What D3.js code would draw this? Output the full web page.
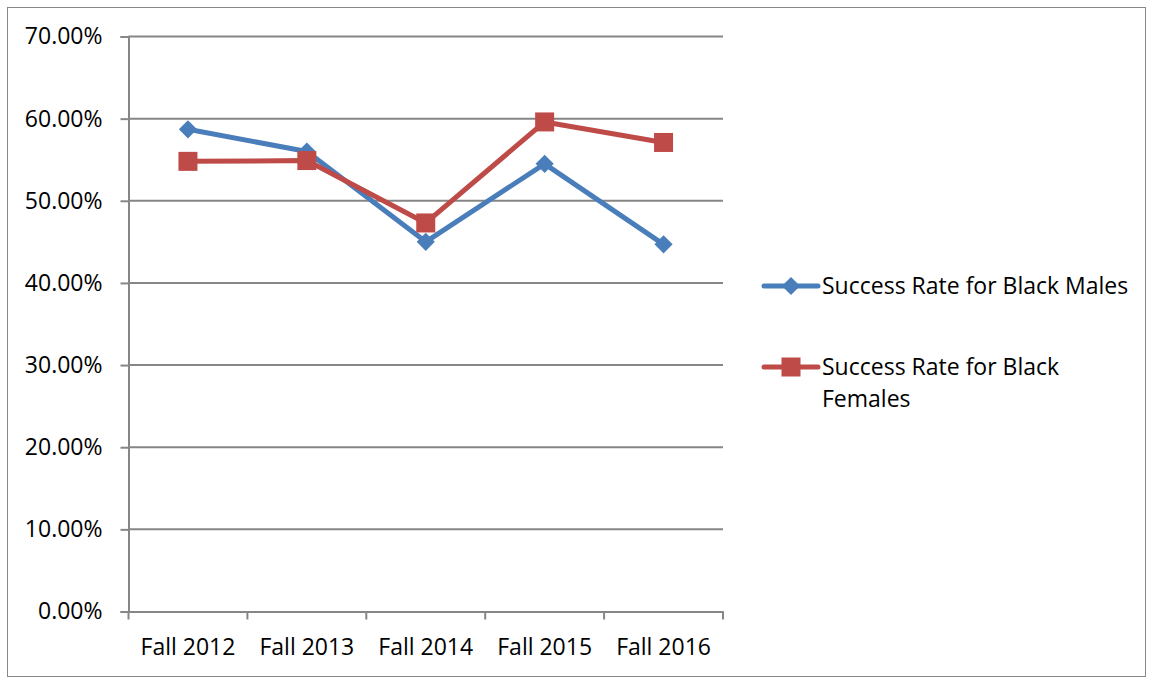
<!DOCTYPE html>
<html><head><meta charset="utf-8">
<script src="https://cdn.jsdelivr.net/npm/d3@7"></script>
<style>body{margin:0;background:#fff}svg{display:block}text{font-family:"Open Sans",sans-serif;fill:#000}</style>
</head><body><svg id="c" width="1153" height="679"></svg>
<script>
const categories = ["Fall 2012","Fall 2013","Fall 2014","Fall 2015","Fall 2016"];
const males = [0.587, 0.560, 0.450, 0.545, 0.447];
const females = [0.548, 0.549, 0.473, 0.596, 0.571];
const yTicks = [0,0.1,0.2,0.3,0.4,0.5,0.6,0.7];
const seriesNames = ["Success Rate for Black Males","Success Rate for Black Females"];
const colors = ["#4a7ebb","#be4b48"];
const FONT = "'Open Sans',sans-serif";
const FS = 23;

const svg = d3.select("#c");
svg.append("rect").attr("x",7.5).attr("y",7.5).attr("width",1138).attr("height",669)
  .attr("fill","#fff").attr("stroke","#888").attr("stroke-width",1);

const x = d3.scaleBand().domain(categories).range([128.5,723]);
const y = d3.scaleLinear().domain([0,0.7]).range([611.5,36.5]);

const grid = svg.append("g");
grid.selectAll("line").data(yTicks.slice(1)).join("line")
  .attr("x1",128.5).attr("x2",723).attr("y1",d=>y(d)).attr("y2",d=>y(d))
  .attr("stroke","#868686").attr("stroke-width",2);

const yAxis = svg.append("g").attr("transform","translate(128.5,0)")
  .call(d3.axisLeft(y).tickValues(yTicks).tickFormat(d3.format(".2%")).tickSize(8).tickPadding(18));
yAxis.select(".domain").attr("stroke","#868686").attr("stroke-width",2);
yAxis.selectAll(".tick line").attr("stroke","#868686").attr("stroke-width",2);
yAxis.selectAll("text").attr("font-size",FS).style("font-family",FONT);

const xAxis = svg.append("g").attr("transform","translate(0,611.5)")
  .call(d3.axisBottom(x).tickSize(0).tickPadding(27));
xAxis.select(".domain").attr("stroke","#868686").attr("stroke-width",2);
xAxis.selectAll("text").attr("font-size",FS).style("font-family",FONT);
xAxis.selectAll(".sep").data(d3.range(categories.length+1)).join("line").attr("class","sep")
  .attr("x1",i=>128.5+i*x.step()).attr("x2",i=>128.5+i*x.step()).attr("y1",0).attr("y2",8)
  .attr("stroke","#868686").attr("stroke-width",2);

const line = d3.line().x((d,i)=>x(categories[i])+x.bandwidth()/2).y(d=>y(d));
[males,females].forEach((s,k)=>{
  svg.append("path").datum(s).attr("d",line).attr("fill","none")
    .attr("stroke",colors[k]).attr("stroke-width",5).attr("stroke-linejoin","round");
});
const diamond = d3.symbol().type(d3.symbolSquare).size(165);
svg.append("g").selectAll("path").data(males).join("path")
  .attr("d",diamond())
  .attr("transform",(d,i)=>`translate(${x(categories[i])+x.bandwidth()/2},${y(d)}) rotate(45)`)
  .attr("fill",colors[0]);
svg.append("g").selectAll("rect").data(females).join("rect")
  .attr("x",(d,i)=>x(categories[i])+x.bandwidth()/2-9.5).attr("y",d=>y(d)-9.5)
  .attr("width",19).attr("height",19).attr("fill",colors[1]);

// legend
const lg = svg.append("g");
const ly = [286,367];
ly.forEach((yy,k)=>{
  lg.append("line").attr("x1",764).attr("x2",818).attr("y1",yy).attr("y2",yy)
    .attr("stroke",colors[k]).attr("stroke-width",5).attr("stroke-linecap","round");
});
lg.append("path").attr("d",diamond()).attr("transform",`translate(791,${ly[0]}) rotate(45)`).attr("fill",colors[0]);
lg.append("rect").attr("x",781.5).attr("y",ly[1]-9.5).attr("width",19).attr("height",19).attr("fill",colors[1]);
lg.append("text").attr("x",822).attr("y",ly[0]+8).attr("font-size",FS).text(seriesNames[0]);
const t2 = lg.append("text").attr("x",822).attr("y",ly[1]+8).attr("font-size",FS);
t2.append("tspan").attr("x",822).text("Success Rate for Black");
t2.append("tspan").attr("x",822).attr("dy",32).text("Females");
</script></body></html>
